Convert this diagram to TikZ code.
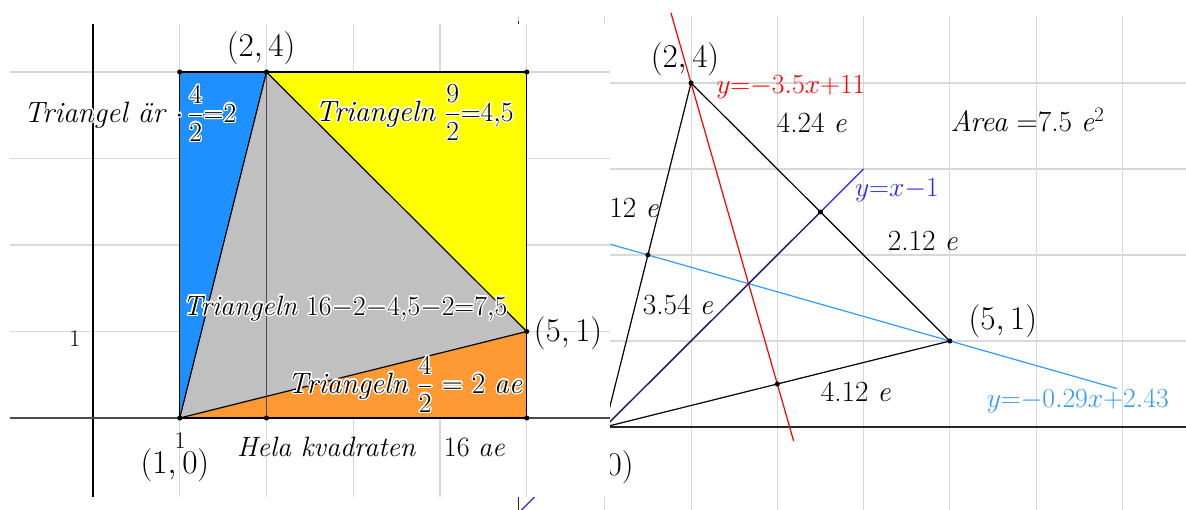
\documentclass[tikz,border=0pt]{standalone}
\usepackage{amsmath}
\usepackage{contour}
\contourlength{1pt}
\newcommand{\halo}[1]{\contour{white}{#1}}

\definecolor{ggblue}{RGB}{30,144,255}
\definecolor{ggyellow}{RGB}{255,255,0}
\definecolor{ggorange}{RGB}{255,153,51}
\definecolor{gggray}{RGB}{192,192,192}
\definecolor{gridgray}{RGB}{216,216,216}
\definecolor{navyline}{RGB}{30,30,90}
\definecolor{skyline}{RGB}{51,153,255}
\definecolor{redline}{RGB}{255,0,0}
\definecolor{blueline}{RGB}{40,40,255}

\begin{document}
\begin{tikzpicture}[x=0.75pt, y=0.75pt,
  every node/.style={inner sep=0pt, font=\fontsize{22}{26}\selectfont},
  eqn/.style={font=\fontsize{20}{24}\selectfont},
  coord/.style={font=\fontsize{25}{30}\selectfont},
  gridline/.style={gridgray, line width=0.8pt},
  axisline/.style={black!85, line width=1pt},
  edgeline/.style={black, line width=0.9pt},
  ticklabel/.style={font=\fontsize{18}{20}\selectfont}]
  \useasboundingbox (0,0) rectangle (1186,510);

  % Right picture: triangle with its medians
  \begin{scope}[shift={(518.5,83)}, x=64.7pt, y=64.5pt]
    % Grid and axes
    \draw[gridline, step=1] (-0.08,-0.97) grid (7.74,4.78);
    \draw[axisline] (-0.08,0) -- (7.74,0);
    \draw[axisline] (0,-0.97) -- (0,4.72);

    % Corners, midpoints and line ends
    \coordinate (P) at (1,0);
    \coordinate (Q) at (2,4);
    \coordinate (R) at (5,1);
    \coordinate (mPQ) at (1.5,2);
    \coordinate (mQR) at (3.5,2.5);
    \coordinate (mPR) at (3,0.5);
    \coordinate (s1) at (0.5,2.286);
    \coordinate (s2) at (6.94,0.446);
    \coordinate (r1) at (1.767,4.816);
    \coordinate (r2) at (3.19,-0.165);
    \coordinate (b1) at (-0.1,-1.1);
    \coordinate (b2) at (4,3);

    % Medians
    \draw[skyline, line width=0.9pt] (s1) -- (s2);
    \draw[redline, line width=0.9pt] (r1) -- (r2);
    \draw[blueline, line width=0.9pt] (b1) -- (b2);
    \draw[navyline, line width=0.9pt] (P) -- (mQR);

    % Triangle
    \draw[edgeline] (P) -- (Q) -- (R) -- cycle;
    \foreach \p in {P,Q,R,mPQ,mQR,mPR}
      \fill (\p) circle (1.9pt);

    % Labels
    \node[coord] (lQ) at (1.93,4.28) {$(2,4)$};
    \node[eqn, text=redline] (lred) at (3.157,3.953) {$y{=}{-}3.5x{+}11$};
    \node (lQR) at (3.40,3.535) {4.24~\textit{e}};
    \node (larea) at (5.90,3.57) {\textit{Area} =7.5 \textit{e}\textsuperscript{2}};
    \node[eqn, text=blueline] (lblue) at (4.386,2.756) {$y{=}x{-}1$};
    \node[anchor=east] (lPQ) at (1.628,2.547) {4.12~\textit{e}};
    \node (lmQR) at (4.687,2.163) {2.12~\textit{e}};
    \node (lPm) at (1.848,1.419) {3.54~\textit{e}};
    \node[coord] (lR) at (5.614,1.233) {$(5,1)$};
    \node (lPR) at (3.911,0.407) {4.12~\textit{e}};
    \node[eqn, text=skyline] (lsky) at (6.483,0.302) {$y{=}{-}0.29x{+}2.43$};
    \node[coord, anchor=east] (lP) at (1.338,-0.465) {$(1,0)$};
  \end{scope}

  % Left picture lies on top
  \fill[white] (0,13) rectangle (610,486);

  % Left picture: square split in four triangles
  \begin{scope}[shift={(93,92)}, x=65.06pt, y=64.875pt]
    % Grid and axes
    \draw[gridline, step=1] (-0.957,-0.913) grid (5.96,4.555);
    \draw[black, line width=1pt] (0,-0.913) -- (0,4.555);
    \draw[black!70, line width=1.5pt] (-0.957,0) -- (5.96,0);

    \coordinate (A) at (1,0);
    \coordinate (B) at (2,4);
    \coordinate (C) at (5,1);
    \coordinate (D) at (5,0);
    \coordinate (E) at (5,4);
    \coordinate (F) at (1,4);
    \coordinate (G) at (2,0);

    % Coloured triangles
    \fill[ggblue] (A) -- (F) -- (B) -- cycle;
    \fill[ggyellow] (B) -- (E) -- (C) -- cycle;
    \fill[ggorange] (A) -- (D) -- (C) -- cycle;
    \fill[gggray] (A) -- (B) -- (C) -- cycle;

    % Edges
    \draw[black!70, line width=0.8pt] (G) -- (B);
    \draw[edgeline] (A) -- (D) -- (E) -- (F) -- cycle;
    \draw[edgeline] (A) -- (B) -- (C) -- cycle;
    \foreach \p in {A,B,C,D,E,F,G}
      \fill (\p) circle (1.9pt);

    % Tick labels
    \node[ticklabel] (tx) at (1.003,-0.266) {1};
    \node[ticklabel] (ty) at (-0.2075,0.913) {1};

    % Labels
    \node[coord] (lB) at (1.937,4.277) {$(2,4)$};
    \node (lblue) at (0.427,3.514) {\halo{\textit{Triangel är} $\cdot\,\dfrac{4}{2}{=}2$}};
    \node (lyel) at (3.706,3.526) {\halo{\textit{Triangeln} $\dfrac{9}{2}{=}4{,}5$}};
    \node[font=\fontsize{21}{25}\selectfont] (lgray) at (2.905,1.26) {\halo{\textit{Triangeln} $16{-}2{-}4{,}5{-}2{=}7{,}5$}};
    \node[coord] (lC) at (5.476,0.983) {$(5,1)$};
    \node (lora) at (3.597,0.3815) {\halo{\textit{Triangeln} $\dfrac{4}{2}$ = 2 \textit{ae}}};
    \node[font=\fontsize{21}{25}\selectfont] (lall) at (3.205,-0.335) {\textit{Hela kvadraten}\quad 16 \textit{ae}};
    \node[coord] (lA) at (0.945,-0.543) {$(1,0)$};
  \end{scope}
\end{tikzpicture}
\end{document}
